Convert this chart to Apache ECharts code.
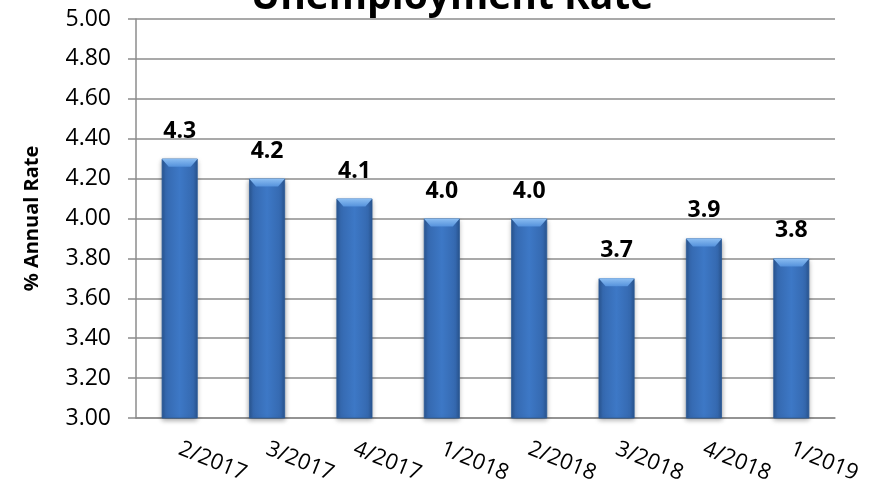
<!DOCTYPE html>
<html>
<head>
<meta charset="utf-8">
<script src="https://cdn.jsdelivr.net/npm/echarts@6/dist/echarts.min.js"></script>
<style>
  html, body { margin: 0; padding: 0; background: #ffffff; }
  #chart { width: 872px; height: 486px; }
</style>
</head>
<body>
<div id="chart"></div>
<script>
// Quarterly unemployment rate (% annual rate)
const quarters = ['2/2017', '3/2017', '4/2017', '1/2018', '2/2018', '3/2018', '4/2018', '1/2019'];
const rates = [4.3, 4.2, 4.1, 4.0, 4.0, 3.7, 3.9, 3.8];
const yMin = 3.0;
const yMax = 5.0;
const yStep = 0.2;

const FONT = '"Open Sans", "Noto Sans", sans-serif';
const BAR_W = 36;
const GRID_COLOR = '#8c8c8c';

const chart = echarts.init(document.getElementById('chart'), null, { renderer: 'canvas' });

const barFill = new echarts.graphic.LinearGradient(0, 0, 1, 0, [
  { offset: 0, color: '#2a5793' },
  { offset: 0.12, color: '#3569b0' },
  { offset: 0.5, color: '#3d78c6' },
  { offset: 0.88, color: '#3569b0' },
  { offset: 1, color: '#2a5793' }
]);

// light bevel across the top of each bar
function renderBevel(params, api) {
  const top = api.coord([api.value(0), api.value(1)]);
  const half = BAR_W / 2;
  const depth = 8;
  return {
    type: 'polygon',
    shape: {
      points: [
        [top[0] - half, top[1]],
        [top[0] + half, top[1]],
        [top[0] + half - 7, top[1] + depth],
        [top[0] - half + 7, top[1] + depth]
      ]
    },
    style: {
      fill: new echarts.graphic.LinearGradient(0, 0, 0, 1, [
        { offset: 0, color: '#8cbef2' },
        { offset: 1, color: '#5592dc' }
      ])
    }
  };
}

chart.setOption({
  animation: false,
  title: {
    text: 'Unemployment Rate',
    left: 447,
    top: -27,
    textAlign: 'center',
    textStyle: { fontFamily: FONT, fontSize: 39, fontWeight: 'bold', color: '#000' }
  },
  grid: { left: 136, right: 37, top: 19, bottom: 68, containLabel: false },
  xAxis: {
    type: 'category',
    data: quarters,
    boundaryGap: true,
    axisLine: { lineStyle: { color: GRID_COLOR, width: 1.5 } },
    axisTick: { length: 7, lineStyle: { color: GRID_COLOR, width: 1.5 } },
    axisLabel: {
      rotate: -22,
      margin: 30,
      fontFamily: FONT,
      fontSize: 22,
      color: '#000'
    }
  },
  yAxis: {
    type: 'value',
    min: yMin,
    max: yMax,
    interval: yStep,
    name: '% Annual Rate',
    nameLocation: 'middle',
    nameGap: 94,
    nameTextStyle: { fontFamily: FONT, fontSize: 20, fontWeight: 'bold', color: '#000' },
    axisLine: { show: true, lineStyle: { color: GRID_COLOR, width: 1.5 } },
    axisTick: { show: true, length: 8, lineStyle: { color: GRID_COLOR, width: 1.5 } },
    splitLine: { lineStyle: { color: GRID_COLOR, width: 1.5 } },
    axisLabel: {
      margin: 25,
      fontFamily: FONT,
      fontSize: 23,
      color: '#000',
      formatter: v => v.toFixed(2)
    }
  },
  series: [
    {
      type: 'bar',
      data: rates,
      barWidth: BAR_W,
      itemStyle: {
        color: barFill,
        borderColor: '#2b5a98',
        borderWidth: 0.8,
        shadowColor: 'rgba(0,0,0,0.35)',
        shadowBlur: 5,
        shadowOffsetY: 2
      },
      label: {
        show: true,
        position: 'top',
        distance: 16,
        fontFamily: FONT,
        fontSize: 23,
        fontWeight: 'bold',
        color: '#000',
        formatter: p => p.value.toFixed(1)
      },
      z: 2
    },
    {
      type: 'custom',
      data: rates.map((v, i) => [i, v]),
      renderItem: renderBevel,
      silent: true,
      z: 3
    }
  ]
});
</script>
</body>
</html>
